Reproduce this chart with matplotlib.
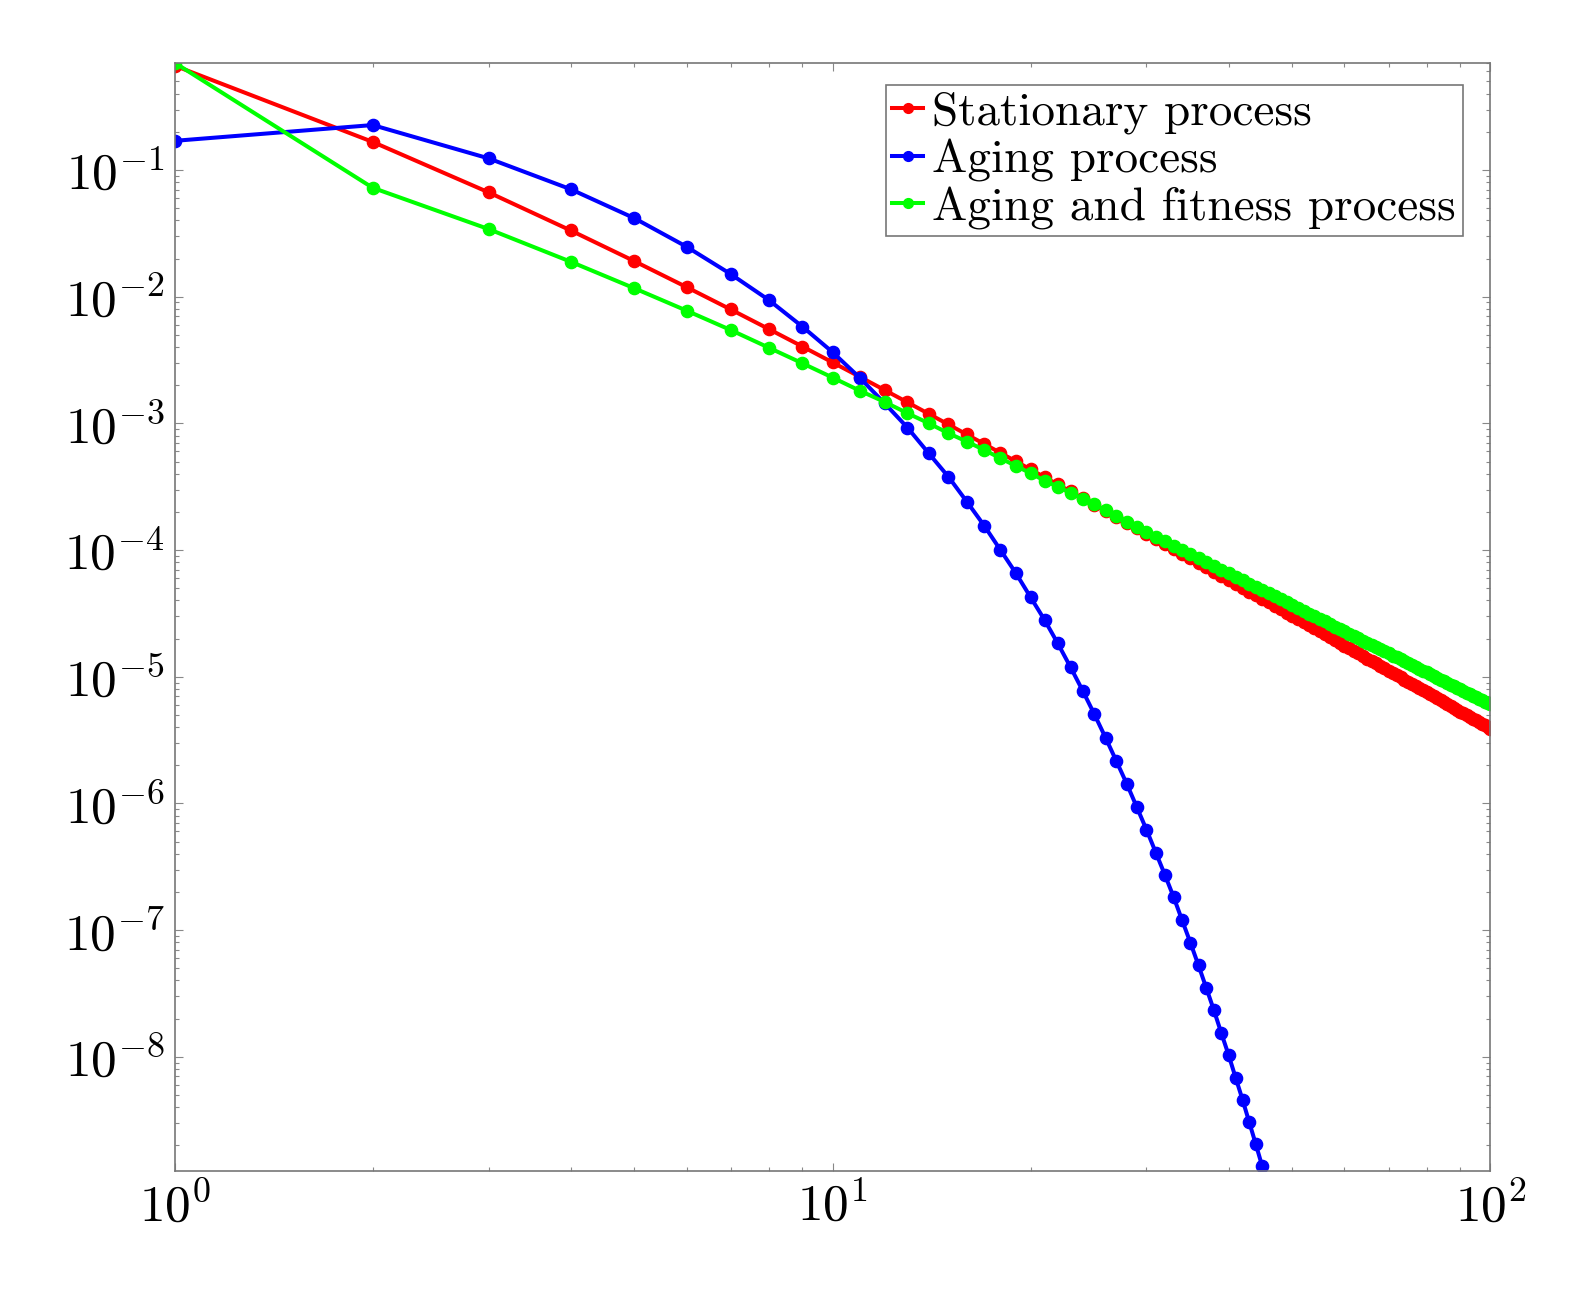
import numpy as np
import matplotlib
matplotlib.use("Agg")
import matplotlib.pyplot as plt
from matplotlib.ticker import LogLocator, FixedLocator, FuncFormatter, NullFormatter

# ---- data ----
k_stationary = list(range(1, 101))
p_stationary = [
    0.6667, 0.1667, 0.06667, 0.03333, 0.01905, 0.01190, 0.007937, 0.005556, 0.004040, 0.003030,
    0.002331, 0.001832, 0.001465, 0.001190, 9.804e-4, 8.170e-4, 6.880e-4, 5.848e-4, 5.013e-4, 4.329e-4,
    3.764e-4, 3.294e-4, 2.899e-4, 2.564e-4, 2.279e-4, 2.035e-4, 1.824e-4, 1.642e-4, 1.483e-4, 1.344e-4,
    1.222e-4, 1.114e-4, 1.019e-4, 9.337e-5, 8.580e-5, 7.903e-5, 7.295e-5, 6.748e-5, 6.254e-5, 5.807e-5,
    5.402e-5, 5.034e-5, 4.698e-5, 4.392e-5, 4.111e-5, 3.854e-5, 3.618e-5, 3.401e-5, 3.201e-5, 3.017e-5,
    2.846e-5, 2.688e-5, 2.541e-5, 2.405e-5, 2.278e-5, 2.161e-5, 2.051e-5, 1.948e-5, 1.852e-5, 1.763e-5,
    1.679e-5, 1.600e-5, 1.526e-5, 1.457e-5, 1.392e-5, 1.330e-5, 1.272e-5, 1.218e-5, 1.166e-5, 1.118e-5,
    1.072e-5, 1.028e-5, 9.873e-6, 9.483e-6, 9.114e-6, 8.763e-6, 8.430e-6, 8.114e-6, 7.814e-6, 7.528e-6,
    7.256e-6, 6.997e-6, 6.750e-6, 6.514e-6, 6.290e-6, 6.075e-6, 5.870e-6, 5.675e-6, 5.488e-6, 5.309e-6,
    5.137e-6, 4.973e-6, 4.816e-6, 4.666e-6, 4.522e-6, 4.383e-6, 4.250e-6, 4.123e-6, 4.000e-6, 3.883e-6,
]

k_aging = list(range(1, 46))
p_aging = [
    0.170, 0.2265, 0.1236, 0.0705, 0.0416, 0.0248, 0.0151, 0.00942, 0.00580, 0.00365,
    0.00229, 0.00144, 9.25e-4, 5.81e-4, 3.79e-4, 2.41e-4, 1.56e-4, 1.00e-4, 6.56e-5, 4.24e-5,
    2.81e-5, 1.83e-5, 1.19e-5, 7.76e-6, 5.06e-6, 3.30e-6, 2.16e-6, 1.43e-6, 9.37e-7, 6.21e-7,
    4.09e-7, 2.73e-7, 1.82e-7, 1.19e-7, 7.92e-8, 5.25e-8, 3.48e-8, 2.32e-8, 1.53e-8, 1.03e-8,
    6.81e-9, 4.57e-9, 3.03e-9, 2.03e-9, 1.36e-9,
]

k_fitness = list(range(1, 101))
p_fitness = [
    0.703, 0.0724, 0.0342, 0.01888, 0.01164, 0.00776, 0.00546, 0.00396, 0.00298, 0.00230,
    0.001811, 0.001476, 0.001202, 0.001002, 8.36e-4, 7.18e-4, 6.17e-4, 5.30e-4, 4.61e-4, 4.04e-4,
    3.53e-4, 3.16e-4, 2.83e-4, 2.54e-4, 2.29e-4, 2.06e-4, 1.86e-4, 1.67e-4, 1.51e-4, 1.38e-4,
    1.27e-4, 1.175e-4, 1.076e-4, 1.000e-4, 9.26e-5, 8.60e-5, 8.01e-5, 7.47e-5, 6.99e-5, 6.54e-5,
    6.13e-5, 5.76e-5, 5.42e-5, 5.11e-5, 4.81e-5, 4.55e-5, 4.30e-5, 4.07e-5, 3.86e-5, 3.66e-5,
    3.48e-5, 3.31e-5, 3.15e-5, 3.00e-5, 2.86e-5, 2.73e-5, 2.60e-5, 2.49e-5, 2.38e-5, 2.28e-5,
    2.18e-5, 2.09e-5, 2.01e-5, 1.93e-5, 1.85e-5, 1.78e-5, 1.71e-5, 1.65e-5, 1.585e-5, 1.53e-5,
    1.47e-5, 1.42e-5, 1.37e-5, 1.32e-5, 1.28e-5, 1.23e-5, 1.19e-5, 1.15e-5, 1.115e-5, 1.08e-5,
    1.044e-5, 1.012e-5, 9.80e-6, 9.50e-6, 9.21e-6, 8.94e-6, 8.67e-6, 8.42e-6, 8.18e-6, 7.94e-6,
    7.72e-6, 7.50e-6, 7.29e-6, 7.09e-6, 6.90e-6, 6.71e-6, 6.54e-6, 6.36e-6, 6.20e-6, 6.04e-6,
]

series_labels = ["Stationary process", "Aging process", "Aging and fitness process"]
x_tick_exp = [0, 1, 2]
y_tick_exp = [-8, -7, -6, -5, -4, -3, -2, -1]

# ---- style ----
plt.rcParams["mathtext.fontset"] = "cm"
plt.rcParams["axes.unicode_minus"] = False

fig = plt.figure(figsize=(15.92, 12.91), dpi=100)
ax = fig.add_axes([0.1097, 0.0932, 0.8265, 0.8582])

lw = 2.9
ms = 8.8
ax.plot(k_stationary, p_stationary, color="#ff0000", lw=lw, marker="o", ms=ms,
        label=series_labels[0])
ax.plot(k_aging, p_aging, color="#0000ff", lw=lw, marker="o", ms=ms,
        label=series_labels[1])
ax.plot(k_fitness, p_fitness, color="#00ff00", lw=lw, marker="o", ms=ms,
        label=series_labels[2])

ax.set_xscale("log")
ax.set_yscale("log")
ax.set_xlim(1, 100)
ax.set_ylim(1.26e-9, 0.703)

fmt = FuncFormatter(lambda v, pos: r"$10^{%d}$" % round(np.log10(v)))
ax.xaxis.set_major_locator(FixedLocator([10.0 ** e for e in x_tick_exp]))
ax.yaxis.set_major_locator(FixedLocator([10.0 ** e for e in y_tick_exp]))
for axis in (ax.xaxis, ax.yaxis):
    axis.set_minor_locator(LogLocator(base=10, subs=np.arange(2, 10), numticks=20))
    axis.set_minor_formatter(NullFormatter())
    axis.set_major_formatter(fmt)

ax.tick_params(which="both", direction="in", top=True, right=True, color="#888888",
               width=0.8, labelsize=37)
ax.tick_params(which="major", length=6)
ax.tick_params(which="minor", length=3.2)
ax.tick_params(axis="x", pad=8)
ax.tick_params(axis="y", pad=7)
for s in ax.spines.values():
    s.set_color("#777777")
    s.set_linewidth(1.2)

leg = ax.legend(loc="upper right", bbox_to_anchor=(0.979, 0.980), borderaxespad=0,
                prop={"family": "cmr10", "size": 34}, fancybox=False, framealpha=1,
                edgecolor="#777777", handlelength=0.65, handletextpad=0.2,
                labelspacing=0.1, borderpad=0.14, numpoints=1, markerscale=0.8)
leg.get_frame().set_linewidth(1.2)

fig.savefig("out.png", dpi=100)
